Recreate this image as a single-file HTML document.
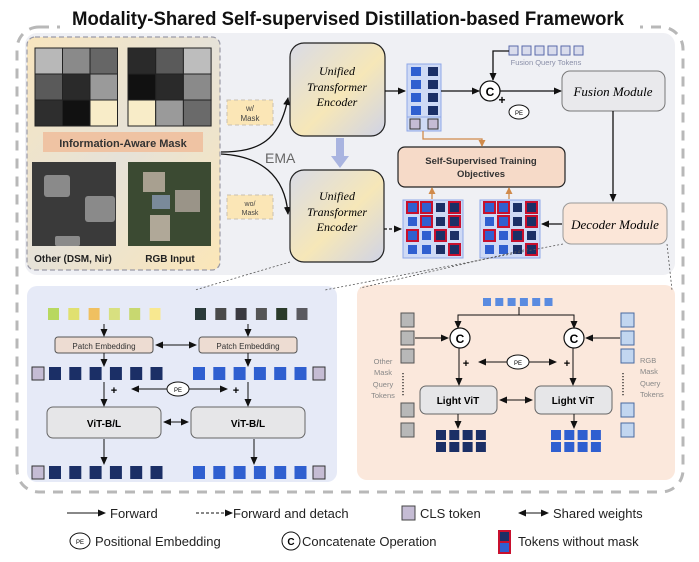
<!DOCTYPE html>
<html><head><meta charset="utf-8"><style>
html,body{margin:0;padding:0;background:#fff}
svg{display:block}
text{font-family:"Liberation Sans",sans-serif}
.it{font-family:"Liberation Serif",serif;font-style:italic}
</style></head><body>
<svg id="s" width="699" height="562" viewBox="0 0 699 562" xmlns="http://www.w3.org/2000/svg">
<defs>
<marker id="a" markerWidth="8" markerHeight="8" refX="7" refY="4" orient="auto" markerUnits="userSpaceOnUse"><path d="M0,0.5 L8,4 L0,7.5z" fill="#111"/></marker>
<marker id="as" markerWidth="8" markerHeight="8" refX="1" refY="4" orient="auto" markerUnits="userSpaceOnUse"><path d="M8,0.5 L0,4 L8,7.5z" fill="#111"/></marker>
<marker id="ao" markerWidth="7" markerHeight="7" refX="6" refY="3.5" orient="auto" markerUnits="userSpaceOnUse"><path d="M0,0 L7,3.5 L0,7z" fill="#d08a4a"/></marker>
<linearGradient id="enc" x1="0" y1="0" x2="1" y2="1"><stop offset="0" stop-color="#d9dbe6"/><stop offset="0.55" stop-color="#f6e7b8"/><stop offset="1" stop-color="#cfd3e6"/></linearGradient>
<linearGradient id="inp" x1="0" y1="0" x2="1" y2="1"><stop offset="0" stop-color="#f8e5be"/><stop offset="0.5" stop-color="#e6e2d8"/><stop offset="1" stop-color="#fbe6b8"/></linearGradient>
</defs>
<rect x="17" y="27" width="666" height="465" rx="22" fill="none" stroke="#b8b8b8" stroke-width="3" stroke-dasharray="10,8"/>
<rect x="60" y="6" width="580" height="26" fill="#fff"/>
<text x="348" y="25" font-size="19" font-weight="bold" text-anchor="middle" fill="#111" textLength="552" lengthAdjust="spacingAndGlyphs">Modality-Shared Self-supervised Distillation-based Framework</text>
<rect x="25" y="33" width="650" height="242" rx="12" fill="#eff0f4"/>
<rect x="27" y="286" width="310" height="196" rx="10" fill="#e6eaf7"/>
<rect x="357" y="285" width="318" height="195" rx="10" fill="#fbe8dc"/>
<rect x="27" y="37" width="193" height="233" rx="8" fill="url(#inp)" stroke="#9a9aa6" stroke-width="1.2" stroke-dasharray="5,3"/>
<g id="grids"></g>
<rect x="43" y="132" width="160" height="20" fill="#efc3a3"/>
<text x="123" y="147" font-size="11" font-weight="bold" text-anchor="middle" fill="#333">Information-Aware Mask</text>
<rect x="32" y="162" width="84" height="84" fill="#3a3a3a"/>
<rect x="44" y="175" width="26" height="22" rx="3" fill="#8a8a8a"/>
<rect x="85" y="196" width="30" height="26" rx="3" fill="#8a8a8a"/>
<rect x="55" y="236" width="25" height="10" rx="2" fill="#8a8a8a"/>
<rect x="128" y="162" width="83" height="84" fill="#3b4a32"/>
<rect x="143" y="172" width="22" height="20" fill="#a8a090"/><rect x="175" y="190" width="25" height="22" fill="#9a9488"/><rect x="150" y="215" width="20" height="26" fill="#b0a898"/><rect x="152" y="195" width="18" height="14" fill="#7a8a9a"/>
<text x="73" y="262" font-size="10" font-weight="bold" text-anchor="middle" fill="#222">Other (DSM, Nir)</text>
<text x="170" y="262" font-size="10" font-weight="bold" text-anchor="middle" fill="#222">RGB Input</text>
<rect x="227" y="100" width="46" height="25" fill="#fbe6b6" stroke="#c8c0b0" stroke-dasharray="4,3"/>
<text x="250" y="111" font-size="8" text-anchor="middle" fill="#444">w/</text><text x="250" y="121" font-size="8" text-anchor="middle" fill="#444">Mask</text>
<rect x="227" y="195" width="46" height="24" fill="#fbe6b6" stroke="#c8c0b0" stroke-dasharray="4,3"/>
<text x="250" y="206" font-size="7" text-anchor="middle" fill="#444">wo/</text><text x="250" y="215" font-size="7" text-anchor="middle" fill="#444">Mask</text>
<path d="M221,152 C260,152 280,140 288,98" fill="none" stroke="#111" stroke-width="1.3" marker-end="url(#a)"/>
<path d="M221,154 C260,156 285,175 288,214" fill="none" stroke="#111" stroke-width="1.3" marker-end="url(#a)"/>
<rect x="290" y="43" width="95" height="93" rx="14" fill="url(#enc)" stroke="#222" stroke-width="1.2"/>
<text class="it" x="337" y="75" font-size="12" text-anchor="middle">Unified</text>
<text class="it" x="337" y="91" font-size="12" text-anchor="middle">Transformer</text>
<text class="it" x="337" y="106" font-size="12" text-anchor="middle">Encoder</text>
<rect x="290" y="170" width="94" height="92" rx="14" fill="url(#enc)" stroke="#222" stroke-width="1.2"/>
<text class="it" x="337" y="200" font-size="12" text-anchor="middle">Unified</text>
<text class="it" x="337" y="216" font-size="12" text-anchor="middle">Transformer</text>
<text class="it" x="337" y="231" font-size="12" text-anchor="middle">Encoder</text>
<text x="265" y="163" font-size="14" fill="#666">EMA</text>
<path d="M336,138 L336,156 L331,156 L340,168 L349,156 L344,156 L344,138z" fill="#a9b4e0"/>
<rect x="407" y="64" width="34" height="53" fill="#cfdaf5" stroke="#8fa8e8"/>
<rect x="407" y="117" width="34" height="14" fill="#cfdaf5" stroke="#8fa8e8"/>
<g id="col"></g>
<line x1="385" y1="91" x2="405" y2="91" stroke="#111" stroke-width="1.3" marker-end="url(#a)"/>
<line x1="441" y1="91" x2="479" y2="91" stroke="#111" stroke-width="1.3" marker-end="url(#a)"/>
<circle cx="490" cy="91" r="10" fill="#fff" stroke="#111" stroke-width="1.3"/>
<text x="490" y="96" font-size="12" font-weight="bold" text-anchor="middle">C</text>
<line x1="500" y1="91" x2="561" y2="91" stroke="#111" stroke-width="1.3" marker-end="url(#a)"/>
<text x="502" y="104" font-size="12" font-weight="bold" text-anchor="middle">+</text>
<ellipse cx="519" cy="112" rx="10" ry="7" fill="#fff" stroke="#111"/><text x="519" y="115" font-size="6" text-anchor="middle">PE</text>
<g id="fq"></g>
<path d="M509,51 L493,51 L493,80" fill="none" stroke="#111" stroke-width="1.3" marker-end="url(#a)"/>
<text x="546" y="65" font-size="7.5" text-anchor="middle" fill="#8a8fa8">Fusion Query Tokens</text>
<rect x="562" y="71" width="103" height="40" rx="8" fill="#e9e9ec" stroke="#777"/>
<text class="it" x="613" y="96" font-size="13" text-anchor="middle">Fusion Module</text>
<line x1="613" y1="111" x2="613" y2="201" stroke="#111" stroke-width="1.3" marker-end="url(#a)"/>
<rect x="563" y="203" width="104" height="41" rx="8" fill="#fbe6d8" stroke="#999"/>
<text class="it" x="615" y="229" font-size="13" text-anchor="middle">Decoder Module</text>
<rect x="398" y="147" width="167" height="40" rx="7" fill="#f6dac8" stroke="#222" stroke-width="1.2"/>
<text x="481" y="164" font-size="9.5" font-weight="bold" text-anchor="middle" fill="#333">Self-Supervised Training</text>
<text x="481" y="177" font-size="9.5" font-weight="bold" text-anchor="middle" fill="#333">Objectives</text>
<path d="M423,131 L423,139 L482,139 L482,146" fill="none" stroke="#d08a4a" stroke-width="1.3" marker-end="url(#ao)"/>
<line x1="432" y1="199" x2="432" y2="188" stroke="#d08a4a" stroke-width="1.3" marker-end="url(#ao)"/>
<line x1="509" y1="199" x2="509" y2="188" stroke="#d08a4a" stroke-width="1.3" marker-end="url(#ao)"/>
<rect x="403" y="200" width="60" height="58" fill="#cfdaf5" stroke="#8fa8e8"/>
<rect x="480" y="200" width="60" height="58" fill="#cfdaf5" stroke="#8fa8e8"/>
<g id="gr"></g>
<line x1="384" y1="229" x2="401" y2="229" stroke="#111" stroke-width="1.2" stroke-dasharray="3,2" marker-end="url(#a)"/>
<line x1="562" y1="224" x2="542" y2="224" stroke="#111" stroke-width="1.3" marker-end="url(#a)"/>
<line x1="290" y1="262" x2="195" y2="290" stroke="#555" stroke-width="0.8" stroke-dasharray="2,2"/>
<line x1="563" y1="244" x2="325" y2="290" stroke="#555" stroke-width="0.8" stroke-dasharray="2,2"/>
<line x1="667" y1="244" x2="672" y2="290" stroke="#555" stroke-width="0.8" stroke-dasharray="2,2"/>
<line x1="528" y1="249" x2="360" y2="288" stroke="#555" stroke-width="0.8" stroke-dasharray="2,2"/>
<g id="bl"></g>
<rect x="55" y="337" width="98" height="16" rx="3" fill="#eddcd2" stroke="#555"/>
<text x="104" y="349" font-size="8" text-anchor="middle" fill="#333">Patch Embedding</text>
<rect x="199" y="337" width="98" height="16" rx="3" fill="#eddcd2" stroke="#555"/>
<text x="248" y="349" font-size="8" text-anchor="middle" fill="#333">Patch Embedding</text>
<line x1="104" y1="324" x2="104" y2="336" stroke="#111" marker-end="url(#a)"/>
<line x1="248" y1="324" x2="248" y2="336" stroke="#111" marker-end="url(#a)"/>
<line x1="156" y1="345" x2="196" y2="345" stroke="#111" marker-start="url(#as)" marker-end="url(#a)"/>
<line x1="104" y1="353" x2="104" y2="366" stroke="#111" marker-end="url(#a)"/>
<line x1="248" y1="353" x2="248" y2="366" stroke="#111" marker-end="url(#a)"/>
<line x1="104" y1="382" x2="104" y2="406" stroke="#111" marker-end="url(#a)"/>
<line x1="248" y1="382" x2="248" y2="406" stroke="#111" marker-end="url(#a)"/>
<text x="114" y="394" font-size="11" font-weight="bold" text-anchor="middle">+</text>
<text x="236" y="394" font-size="11" font-weight="bold" text-anchor="middle">+</text>
<line x1="167" y1="389" x2="132" y2="389" stroke="#111" marker-end="url(#a)"/>
<line x1="189" y1="389" x2="227" y2="389" stroke="#111" marker-end="url(#a)"/>
<ellipse cx="178" cy="389" rx="11" ry="7" fill="#fff" stroke="#111"/><text x="178" y="392" font-size="6" text-anchor="middle">PE</text>
<rect x="47" y="407" width="114" height="31" rx="6" fill="#e6e6e8" stroke="#666"/>
<text x="104" y="427" font-size="10" font-weight="bold" text-anchor="middle">ViT-B/L</text>
<rect x="191" y="407" width="114" height="31" rx="6" fill="#e6e6e8" stroke="#666"/>
<text x="248" y="427" font-size="10" font-weight="bold" text-anchor="middle">ViT-B/L</text>
<line x1="164" y1="422" x2="188" y2="422" stroke="#111" marker-start="url(#as)" marker-end="url(#a)"/>
<line x1="104" y1="439" x2="104" y2="464" stroke="#111" marker-end="url(#a)"/>
<line x1="254" y1="439" x2="254" y2="464" stroke="#111" marker-end="url(#a)"/>
<g id="br"></g>
<path d="M519,307 L519,315 L458,315 L458,328" fill="none" stroke="#111" marker-end="url(#a)"/>
<path d="M519,315 L574,315 L574,328" fill="none" stroke="#111" marker-end="url(#a)"/>
<line x1="415" y1="338" x2="448" y2="338" stroke="#111" marker-end="url(#a)"/>
<line x1="620" y1="338" x2="586" y2="338" stroke="#111" marker-end="url(#a)"/>
<circle cx="460" cy="338" r="10" fill="#fff" stroke="#111" stroke-width="1.2"/><text x="460" y="343" font-size="12" font-weight="bold" text-anchor="middle">C</text>
<circle cx="574" cy="338" r="10" fill="#fff" stroke="#111" stroke-width="1.2"/><text x="574" y="343" font-size="12" font-weight="bold" text-anchor="middle">C</text>
<line x1="459" y1="348" x2="459" y2="385" stroke="#111" marker-end="url(#a)"/>
<line x1="573" y1="348" x2="573" y2="385" stroke="#111" marker-end="url(#a)"/>
<text x="466" y="367" font-size="11" font-weight="bold" text-anchor="middle">+</text>
<text x="567" y="367" font-size="11" font-weight="bold" text-anchor="middle">+</text>
<line x1="507" y1="362" x2="479" y2="362" stroke="#111" marker-end="url(#a)"/>
<line x1="529" y1="362" x2="556" y2="362" stroke="#111" marker-end="url(#a)"/>
<ellipse cx="518" cy="362" rx="11" ry="7" fill="#fff" stroke="#111"/><text x="518" y="365" font-size="6" text-anchor="middle">PE</text>
<rect x="420" y="386" width="77" height="28" rx="6" fill="#e6e6e8" stroke="#666"/>
<text x="458" y="404" font-size="10" font-weight="bold" text-anchor="middle">Light ViT</text>
<rect x="535" y="386" width="77" height="28" rx="6" fill="#e6e6e8" stroke="#666"/>
<text x="573" y="404" font-size="10" font-weight="bold" text-anchor="middle">Light ViT</text>
<line x1="500" y1="400" x2="532" y2="400" stroke="#111" marker-start="url(#as)" marker-end="url(#a)"/>
<line x1="458" y1="414" x2="458" y2="428" stroke="#111" marker-end="url(#a)"/>
<line x1="574" y1="414" x2="574" y2="428" stroke="#111" marker-end="url(#a)"/>
<text font-size="7.5" fill="#888" text-anchor="middle"><tspan x="383" y="364">Other</tspan><tspan x="383" y="375">Mask</tspan><tspan x="383" y="387">Query</tspan><tspan x="383" y="398">Tokens</tspan></text>
<text font-size="7.5" fill="#888" text-anchor="start"><tspan x="640" y="363">RGB</tspan><tspan x="640" y="374">Mask</tspan><tspan x="640" y="386">Query</tspan><tspan x="640" y="397">Tokens</tspan></text>
<line x1="403" y1="373" x2="403" y2="396" stroke="#222" stroke-width="1.3" stroke-dasharray="1.3,1.7"/>
<line x1="623" y1="373" x2="623" y2="396" stroke="#222" stroke-width="1.3" stroke-dasharray="1.3,1.7"/>
<line x1="67" y1="513" x2="105" y2="513" stroke="#111" marker-end="url(#a)"/>
<text x="110" y="518" font-size="13" fill="#222">Forward</text>
<line x1="196" y1="513" x2="232" y2="513" stroke="#111" stroke-dasharray="3,2" marker-end="url(#a)"/>
<text x="233" y="518" font-size="13" fill="#222">Forward and detach</text>
<rect x="402" y="506" width="13" height="14" fill="#c5bcd4" stroke="#444"/>
<text x="420" y="518" font-size="13" fill="#222">CLS token</text>
<line x1="519" y1="513" x2="548" y2="513" stroke="#111" marker-start="url(#as)" marker-end="url(#a)"/>
<text x="553" y="518" font-size="13" fill="#222">Shared weights</text>
<ellipse cx="80" cy="541" rx="10" ry="8" fill="#fff" stroke="#111"/><text x="80" y="544" font-size="6" text-anchor="middle">PE</text>
<text x="95" y="546" font-size="13" fill="#222">Positional Embedding</text>
<circle cx="291" cy="541" r="9" fill="#fff" stroke="#111"/><text x="291" y="545" font-size="10" font-weight="bold" text-anchor="middle">C</text>
<text x="302" y="546" font-size="13" fill="#222">Concatenate Operation</text>
<rect x="499" y="531" width="11" height="11" fill="#1b2f66" stroke="#c8102e" stroke-width="2"/>
<rect x="499" y="542" width="11" height="11" fill="#2f5fd0" stroke="#c8102e" stroke-width="2"/>
<text x="518" y="546" font-size="13" fill="#222">Tokens without mask</text>
</svg>
<script>
var NS="http://www.w3.org/2000/svg";
function R(g,x,y,w,h,f,s,sw){var r=document.createElementNS(NS,"rect");r.setAttribute("x",x);r.setAttribute("y",y);r.setAttribute("width",w);r.setAttribute("height",h);r.setAttribute("fill",f);if(s){r.setAttribute("stroke",s);r.setAttribute("stroke-width",sw||1);}document.getElementById(g).appendChild(r);}
var DK="#1b2f66",LB="#2f5fd0";
var g1=["#b8b8b8","#8a8a8a","#666","#5a5a5a","#2a2a2a","#9a9a9a","#2e2e2e","#111","#f8ecc8"];
var g2=["#2a2a2a","#5a5a5a","#bdbdbd","#111","#2a2a2a","#8a8a8a","#f8ecc8","#9a9a9a","#6a6a6a"];
for(var i=0;i<9;i++){R("grids",35+(i%3)*27.5,48+Math.floor(i/3)*26,27.5,26,g1[i],"#222",1);R("grids",128+(i%3)*27.7,48+Math.floor(i/3)*26,27.7,26,g2[i],"#222",1);}
for(var i=0;i<4;i++){R("col",411,67+i*13,10,9,LB);R("col",428,67+i*13,10,9,DK);}
R("col",410,119,10,10,"#c5bcd4","#333");R("col",428,119,10,10,"#c5bcd4","#333");
for(var i=0;i<6;i++)R("fq",509+i*13,46,9,9,"#d9dcec","#5a6aaa",1);
var red=[[1,1,0,1],[0,1,0,1],[1,0,1,0],[0,0,0,1]];
[403,480].forEach(function(gx){for(var r=0;r<4;r++)for(var c=0;c<4;c++){var x=gx+5+c*14,y=203+r*14,f=c<2?LB:DK;if(red[r][c])R("gr",x-1,y-1,11,11,f,"#c8102e",2);else R("gr",x,y,9,9,f);}});
var lp=["#b8d860","#e0e070","#f0c060","#d8e080","#c8d870","#f8e890"],rp=["#2a3a3a","#4a4a4a","#3a3a40","#555","#2a3a2a","#5a5a60"];
for(var i=0;i<6;i++){R("bl",48+i*20.3,308,11,12,lp[i]);R("bl",195+i*20.3,308,11,12,rp[i]);}
R("bl",32,367,12,13,"#c5bcd4","#333");R("bl",313,367,12,13,"#c5bcd4","#333");R("bl",32,466,12,13,"#c5bcd4","#333");R("bl",313,466,12,13,"#c5bcd4","#333");
for(var i=0;i<6;i++){R("bl",49+i*20.3,367,12,13,DK);R("bl",193+i*20.3,367,12,13,LB);R("bl",49+i*20.3,466,12,13,DK);R("bl",193+i*20.3,466,12,13,LB);}
for(var i=0;i<6;i++)R("br",483+i*12.3,298,8,8,"#5a8be0");
[313,331,349,403,423].forEach(function(yy){R("br",401,yy,13,14,"#b8b8b8","#555");R("br",621,yy,13,14,"#c2d6f0","#4a6aa0");});
for(var r=0;r<2;r++)for(var c=0;c<4;c++){R("br",436+c*13.3,430+r*12,10,10,DK);R("br",551+c*13.3,430+r*12,10,10,LB);}
</script>
</body></html>
